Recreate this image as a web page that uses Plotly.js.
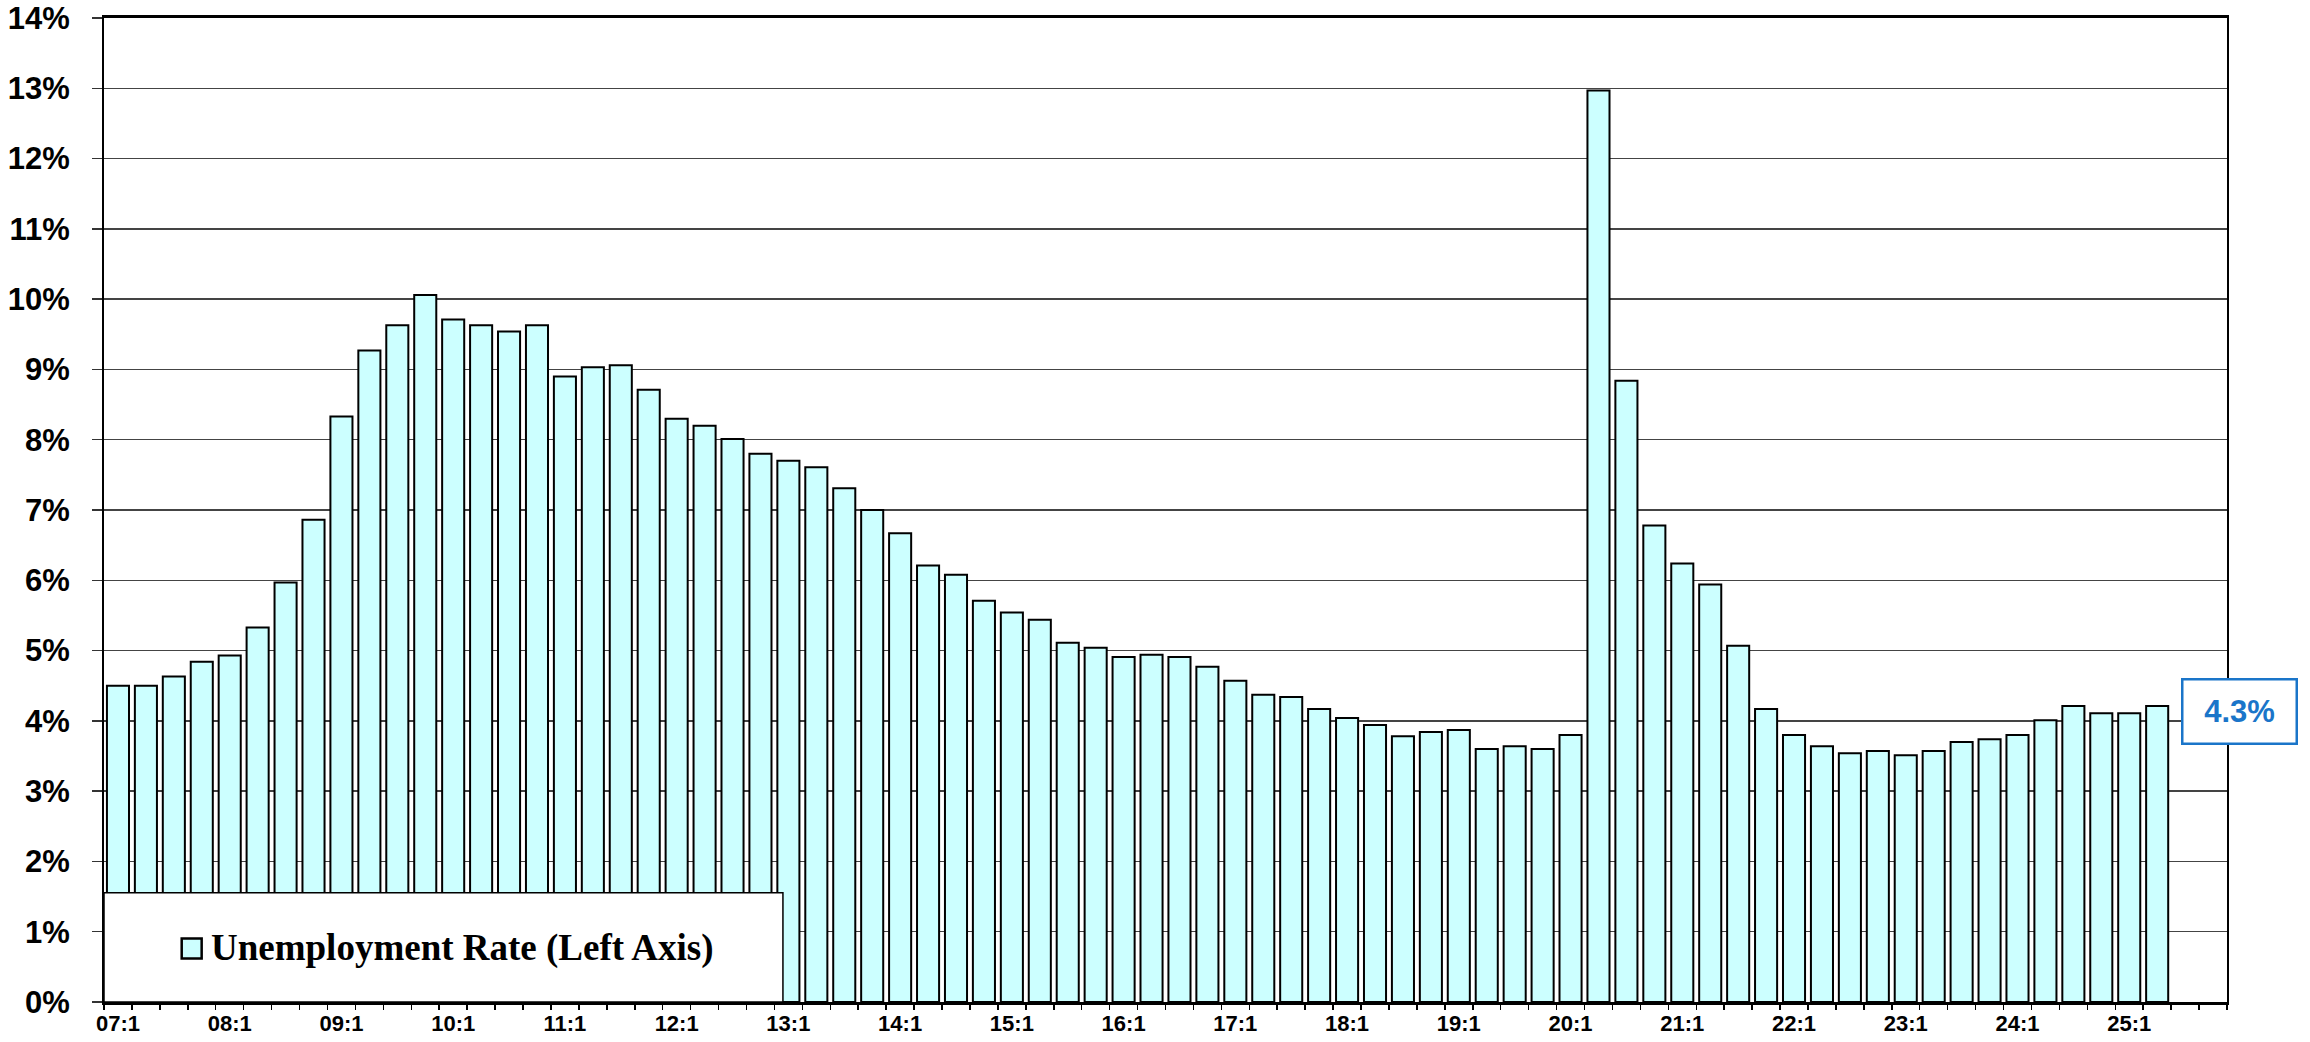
<!DOCTYPE html>
<html>
<head>
<meta charset="utf-8">
<script src="https://cdn.plot.ly/plotly-3.0.1.min.js"></script>
<style>
  html, body { margin: 0; padding: 0; background: #ffffff; }
  #chart { width: 2310px; height: 1042px; }
</style>
</head>
<body>
<div id="chart"></div>
<script>
// Quarter categories (yy:q), 2007Q1 .. 2025Q2
const quarters = [
  "07:1","07:2","07:3","07:4","08:1","08:2","08:3","08:4",
  "09:1","09:2","09:3","09:4","10:1","10:2","10:3","10:4",
  "11:1","11:2","11:3","11:4","12:1","12:2","12:3","12:4",
  "13:1","13:2","13:3","13:4","14:1","14:2","14:3","14:4",
  "15:1","15:2","15:3","15:4","16:1","16:2","16:3","16:4",
  "17:1","17:2","17:3","17:4","18:1","18:2","18:3","18:4",
  "19:1","19:2","19:3","19:4","20:1","20:2","20:3","20:4",
  "21:1","21:2","21:3","21:4","22:1","22:2","22:3","22:4",
  "23:1","23:2","23:3","23:4","24:1","24:2","24:3","24:4",
  "25:1","25:2"
];
// Unemployment rate, %
const unemploymentRate = [
  4.50, 4.50, 4.63, 4.84, 4.93, 5.33, 5.97, 6.86,
  8.33, 9.27, 9.63, 10.06, 9.71, 9.63, 9.54, 9.63,
  8.90, 9.03, 9.06, 8.71, 8.30, 8.20, 8.01, 7.80,
  7.70, 7.61, 7.31, 7.00, 6.67, 6.21, 6.08, 5.71,
  5.54, 5.44, 5.11, 5.04, 4.91, 4.94, 4.91, 4.77,
  4.57, 4.37, 4.34, 4.17, 4.04, 3.94, 3.78, 3.84,
  3.87, 3.60, 3.64, 3.60, 3.80, 12.97, 8.84, 6.78,
  6.24, 5.94, 5.07, 4.17, 3.80, 3.64, 3.54, 3.57,
  3.51, 3.57, 3.70, 3.74, 3.80, 4.01, 4.21, 4.11,
  4.11, 4.21
];
// Axis tick labels (first quarter of each year)
const xTickLabels = ["07:1","08:1","09:1","10:1","11:1","12:1","13:1","14:1","15:1","16:1",
                     "17:1","18:1","19:1","20:1","21:1","22:1","23:1","24:1","25:1"];
const totalSlots = 76;           // axis runs through 25:4
const latestRate = 4.3;          // callout value
const calloutLevel = 4.14;       // vertical position of callout (left-axis units)
const seriesName = "Unemployment Rate (Left Axis)";
const barFill = "#CCFFFF";

const xIndex = quarters.map((q, i) => i);
const tickPositions = xTickLabels.map(l => quarters.indexOf(l));

const trace = {
  type: "bar",
  name: seriesName,
  x: xIndex,
  y: unemploymentRate,
  text: quarters,
  hoverinfo: "text+y",
  textposition: "none",
  marker: { color: barFill, line: { color: "#000000", width: 2 } },
  showlegend: false
};

const layout = {
  width: 2310,
  height: 1042,
  paper_bgcolor: "#ffffff",
  plot_bgcolor: "#ffffff",
  margin: { l: 104, r: 83, t: 18, b: 40, pad: 0 },
  bargap: 0.21,
  font: { family: "Liberation Sans, Arial, sans-serif", color: "#000000" },
  xaxis: {
    type: "linear",
    range: [-0.5, totalSlots - 0.5],
    tickmode: "array",
    tickvals: tickPositions,
    ticktext: xTickLabels,
    ticks: "",
    showgrid: false,
    zeroline: false,
    showline: true,
    mirror: true,
    linecolor: "#000000",
    linewidth: 3,
    tickfont: { family: "Liberation Sans, Arial, sans-serif", size: 22, color: "#000000", weight: "bold" },
    ticklabelstandoff: 0,
    minor: { ticks: "outside", tick0: -0.5, dtick: 1, ticklen: 5, tickwidth: 1.5, tickcolor: "#000000", showgrid: false }
  },
  yaxis: {
    range: [0, 14],
    tick0: 0,
    dtick: 1,
    ticksuffix: "%",
    ticks: "outside",
    ticklen: 10,
    tickwidth: 1.5,
    tickcolor: "#333333",
    showgrid: true,
    gridcolor: "#444444",
    gridwidth: 1.5,
    zeroline: false,
    showline: true,
    mirror: true,
    linecolor: "#000000",
    linewidth: 2,
    tickfont: { family: "Liberation Sans, Arial, sans-serif", size: 31, color: "#000000", weight: "bold" },
    ticklabelstandoff: 16
  },
  showlegend: false,
  shapes: [
    // legend box
    {
      type: "rect", xref: "paper", yref: "paper", layer: "above",
      x0: 0, x1: 0.3198, y0: 0, y1: 0.111,
      fillcolor: "#ffffff",
      line: { color: "#000000", width: 1.5 }
    },
    // legend swatch
    {
      type: "rect", xref: "paper", yref: "paper", layer: "above",
      x0: 0.0366, x1: 0.0460, y0: 0.0443, y1: 0.0645,
      fillcolor: barFill,
      line: { color: "#000000", width: 2.5 }
    }
  ],
  annotations: [
    {
      xref: "paper", yref: "paper",
      x: 0.0495, y: 0.0544,
      xanchor: "left", yanchor: "middle",
      text: seriesName,
      showarrow: false,
      font: { family: "Liberation Serif, Times New Roman, serif", size: 37, color: "#000000", weight: "bold" }
    },
    {
      xref: "paper", yref: "y",
      x: 1.006, y: calloutLevel,
      xanchor: "center", yanchor: "middle",
      text: latestRate.toFixed(1) + "%",
      showarrow: false,
      font: { family: "Liberation Sans, Arial, sans-serif", size: 31, color: "#1a75c9", weight: "bold" },
      bgcolor: "#ffffff",
      bordercolor: "#1a75c9",
      borderwidth: 2.5,
      borderpad: 0,
      width: 112,
      height: 62
    }
  ]
};

Plotly.newPlot("chart", [trace], layout, { staticPlot: true, displayModeBar: false });
</script>
</body>
</html>
